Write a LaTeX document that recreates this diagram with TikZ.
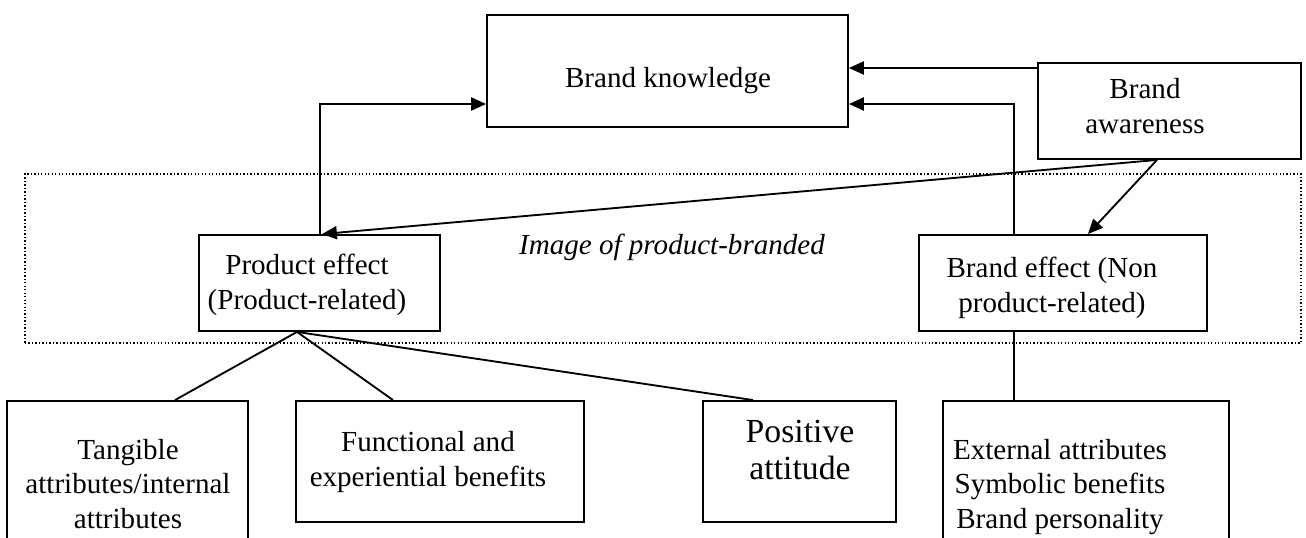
\documentclass[tikz,border=0pt]{standalone}
\usepackage{fontspec}
\setmainfont{Liberation Serif}
\usepackage{tikz}
\usetikzlibrary{positioning, arrows.meta, fit, calc}

\begin{document}
\begin{tikzpicture}[
        x=0.43pt, y=-0.43pt,
        box/.style={rectangle, draw, line width=0.8pt, inner sep=0pt},
        txt/.style={align=center, font=\fontsize{12.5}{14.8}\selectfont, inner sep=0pt},
        arr/.style={line width=0.8pt, -{Triangle[length=6.4pt, width=5.6pt]}},
        link/.style={line width=0.8pt}
    ]
    \useasboundingbox (0,0) rectangle (1306,538);
    \clip (0,0) rectangle (1306,538);

    % Image zone (dotted frame)
    \node[draw, line width=0.6pt, dash pattern=on 0.6pt off 0.9pt, inner sep=0pt, fit={(25,174) (1301,343)}] (zone) {};
    \node[txt, anchor=base, font=\fontsize{12.5}{14.8}\selectfont\itshape] (zonetxt) at (672,255) {Image of product-branded};

    % Top boxes
    \node[box, fit={(487,15) (848,127)}] (know) {};
    \node[txt, anchor=base] (knowtxt) at (668,88) {Brand knowledge};
    \node[box, fit={(1038,63) (1301,159)}] (aware) {};
    \node[txt] (awaretxt) at (1145,106) {Brand\\awareness};

    % Effect boxes
    \node[box, fit={(199,235) (440,331)}] (prod) {};
    \node[txt] (prodtxt) at (307,285) {Product effect\\(Product-related)};
    \node[box, fit={(919,235) (1207,331)}] (beff) {};
    \node[txt] (befftxt) at (1052,288) {Brand effect (Non\\product-related)};

    % Bottom boxes
    \node[box, fit={(7,401) (248,560)}] (tang) {};
    \node[txt] (tangtxt) at (128,484) {Tangible\\attributes/internal\\attributes};
    \node[box, fit={(296,401) (584,522)}] (func) {};
    \node[txt] (functxt) at (428,462) {Functional and\\experiential benefits};
    \node[box, fit={(703,401) (896,522)}] (pos) {};
    \node[txt, font=\fontsize{14.5}{16.2}\selectfont] (postxt) at (800,450) {Positive\\attitude};
    \node[box, fit={(943,401) (1229,560)}] (ext) {};
    \node[txt] (exttxt) at (1060,487) {External attributes\\Symbolic benefits\\Brand personality};

    % Arrows into brand knowledge
    \draw[arr] (aware.west |- 0,68) -- (know.east |- 0,68);
    \draw[arr] (beff.north -| 1014,0) |- (know.east |- 0,104);
    \draw[arr] (prod.north -| 320,0) |- (know.west |- 0,104);

    % Arrows from brand awareness
    \draw[arr] (aware.south -| 1157,0) -- (prod.north -| 322,0);
    \draw[arr] (aware.south -| 1157,0) -- (beff.north -| 1088,0);

    % Branches below the effects
    \draw[link] (prod.south -| 297,0) -- (tang.north -| 175,0);
    \draw[link] (prod.south -| 297,0) -- (func.north -| 393,0);
    \draw[link] (prod.south -| 297,0) -- (pos.north -| 753,0);
    \draw[link] (beff.south -| 1014,0) -- (ext.north -| 1014,0);
\end{tikzpicture}
\end{document}
